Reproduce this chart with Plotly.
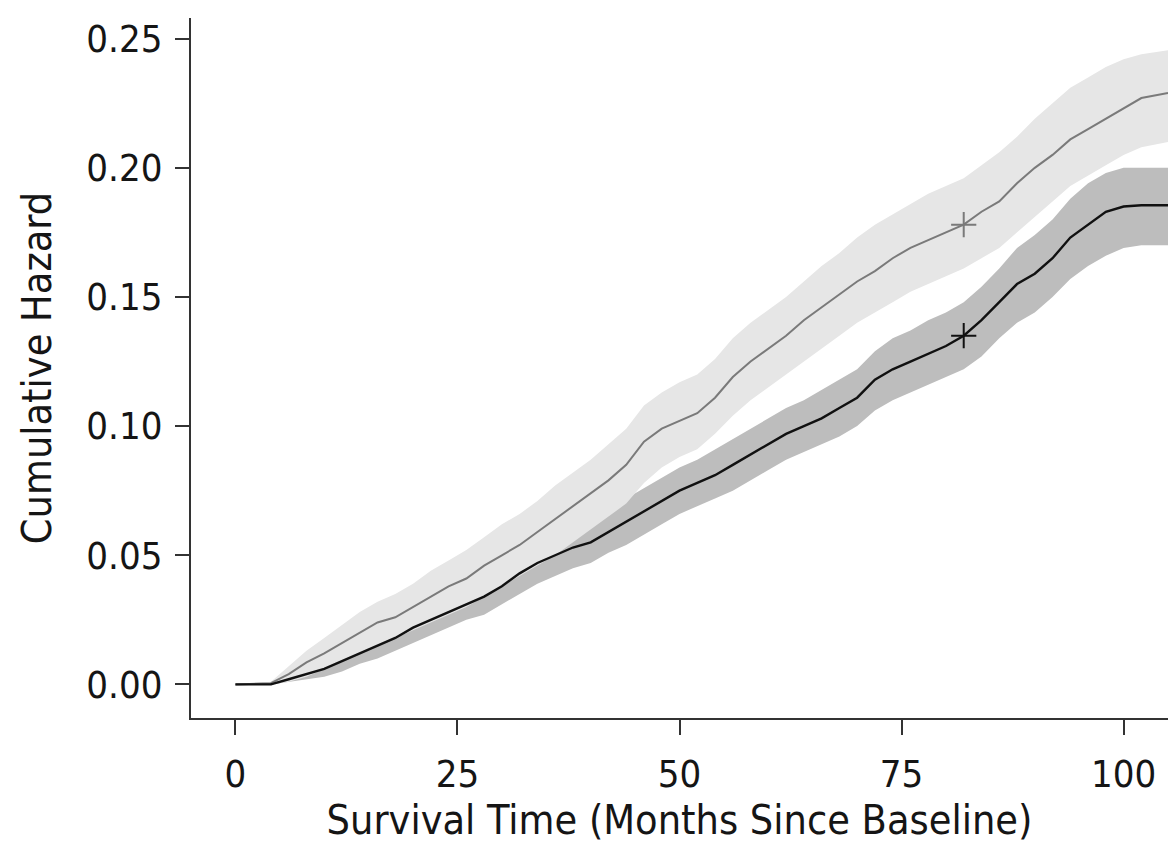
import plotly.graph_objects as go

# ---- data ----
months = [0, 4, 6, 8, 10, 12, 14, 16, 18, 20, 22, 24, 26, 28, 30, 32, 34, 36, 38, 40,
          42, 44, 46, 48, 50, 52, 54, 56, 58, 60, 62, 64, 66, 68, 70, 72, 74, 76, 78, 80,
          82, 84, 86, 88, 90, 92, 94, 96, 98, 100, 102, 105]

# group A (grey line, light band)
hazard_a = [0, 0.0005, 0.004, 0.0085, 0.012, 0.016, 0.020, 0.024, 0.026, 0.030, 0.034, 0.038,
            0.041, 0.046, 0.050, 0.054, 0.059, 0.064, 0.069, 0.074, 0.079, 0.085, 0.094, 0.099,
            0.102, 0.105, 0.111, 0.119, 0.125, 0.130, 0.135, 0.141, 0.146, 0.151, 0.156, 0.160,
            0.165, 0.169, 0.172, 0.175, 0.178, 0.183, 0.187, 0.194, 0.200, 0.205, 0.211, 0.215,
            0.219, 0.223, 0.227, 0.229]
lower_a = [0, 0, 0.001, 0.003, 0.006, 0.009, 0.012, 0.015, 0.018, 0.021, 0.024, 0.027, 0.030,
           0.034, 0.038, 0.042, 0.046, 0.050, 0.055, 0.060, 0.065, 0.070, 0.078, 0.084, 0.088,
           0.091, 0.097, 0.104, 0.110, 0.115, 0.120, 0.125, 0.130, 0.135, 0.140, 0.144, 0.148,
           0.152, 0.155, 0.158, 0.161, 0.165, 0.169, 0.175, 0.181, 0.187, 0.193, 0.197, 0.201,
           0.205, 0.208, 0.210]
upper_a = [0, 0.001, 0.007, 0.013, 0.018, 0.023, 0.028, 0.032, 0.035, 0.039, 0.044, 0.048,
           0.052, 0.057, 0.062, 0.066, 0.071, 0.077, 0.082, 0.087, 0.093, 0.099, 0.108, 0.113,
           0.117, 0.120, 0.126, 0.134, 0.140, 0.145, 0.150, 0.156, 0.162, 0.167, 0.173, 0.178,
           0.182, 0.186, 0.190, 0.193, 0.196, 0.201, 0.206, 0.212, 0.219, 0.225, 0.231, 0.235,
           0.239, 0.242, 0.244, 0.2455]

# group B (black line, darker band)
hazard_b = [0, 0, 0.002, 0.004, 0.006, 0.009, 0.012, 0.015, 0.018, 0.022, 0.025, 0.028, 0.031,
            0.034, 0.038, 0.043, 0.047, 0.050, 0.053, 0.055, 0.059, 0.063, 0.067, 0.071, 0.075,
            0.078, 0.081, 0.085, 0.089, 0.093, 0.097, 0.100, 0.103, 0.107, 0.111, 0.118, 0.122,
            0.125, 0.128, 0.131, 0.135, 0.141, 0.148, 0.155, 0.159, 0.165, 0.173, 0.178, 0.183,
            0.185, 0.1855, 0.1855]
lower_b = [0, 0, 0.001, 0.002, 0.003, 0.005, 0.008, 0.010, 0.013, 0.016, 0.019, 0.022, 0.025,
           0.027, 0.031, 0.035, 0.039, 0.042, 0.045, 0.047, 0.051, 0.054, 0.058, 0.062, 0.066,
           0.069, 0.072, 0.075, 0.079, 0.083, 0.087, 0.090, 0.093, 0.096, 0.100, 0.106, 0.110,
           0.113, 0.116, 0.119, 0.122, 0.127, 0.134, 0.140, 0.144, 0.150, 0.157, 0.162, 0.166,
           0.169, 0.170, 0.170]
upper_b = [0, 0.0005, 0.003, 0.006, 0.009, 0.013, 0.016, 0.020, 0.023, 0.028, 0.031, 0.034,
           0.038, 0.041, 0.045, 0.050, 0.055, 0.058, 0.061, 0.063, 0.067, 0.072, 0.076, 0.080,
           0.084, 0.087, 0.091, 0.095, 0.099, 0.103, 0.107, 0.110, 0.114, 0.118, 0.122, 0.129,
           0.134, 0.137, 0.141, 0.144, 0.148, 0.154, 0.161, 0.169, 0.174, 0.180, 0.188, 0.194,
           0.198, 0.200, 0.200, 0.200]

censor_x = [82]
censor_a = [0.178]
censor_b = [0.135]

x_ticks = [0, 25, 50, 75, 100]
y_ticks = [0.00, 0.05, 0.10, 0.15, 0.20, 0.25]
y_labels = ["0.00", "0.05", "0.10", "0.15", "0.20", "0.25"]

FONT = "DejaVu Sans Condensed, Liberation Sans Narrow, sans-serif"
AXIS_COLOR = "#333333"
TEXT_COLOR = "#151515"

fig = go.Figure()

# darker band (group B)
fig.add_trace(go.Scatter(x=months + months[::-1], y=upper_b + lower_b[::-1],
                         fill="toself", fillcolor="#bdbdbd", line=dict(width=0),
                         mode="lines", hoverinfo="skip", showlegend=False))
# light band (group A)
fig.add_trace(go.Scatter(x=months + months[::-1], y=upper_a + lower_a[::-1],
                         fill="toself", fillcolor="#e6e6e6", line=dict(width=0),
                         mode="lines", hoverinfo="skip", showlegend=False))
# lines
fig.add_trace(go.Scatter(x=months, y=hazard_a, mode="lines",
                         line=dict(color="#7a7a7a", width=2), showlegend=False))
fig.add_trace(go.Scatter(x=months, y=hazard_b, mode="lines",
                         line=dict(color="#111111", width=2.4), showlegend=False))
# censoring marks
fig.add_trace(go.Scatter(x=censor_x, y=censor_a, mode="markers",
                         marker=dict(symbol="cross-thin", size=18,
                                     line=dict(color="#7a7a7a", width=2)), showlegend=False))
fig.add_trace(go.Scatter(x=censor_x, y=censor_b, mode="markers",
                         marker=dict(symbol="cross-thin", size=18,
                                     line=dict(color="#111111", width=2)), showlegend=False))

fig.update_layout(
    width=1173, height=858,
    margin=dict(l=191, r=5, t=18, b=140),
    paper_bgcolor="white", plot_bgcolor="white",
    font=dict(family=FONT, color=TEXT_COLOR),
    xaxis=dict(range=[-5, 105], tickvals=x_ticks, showgrid=False, zeroline=False,
               showline=True, linecolor=AXIS_COLOR, linewidth=2,
               ticks="outside", ticklen=15, tickwidth=2, tickcolor=AXIS_COLOR,
               tickfont=dict(size=38, family=FONT, color=TEXT_COLOR),
               ticklabelstandoff=6,
               title=dict(text="Survival Time (Months Since Baseline)",
                          font=dict(size=41, family=FONT, color=TEXT_COLOR), standoff=6)),
    yaxis=dict(range=[-0.013, 0.258], tickvals=y_ticks, ticktext=y_labels,
               showgrid=False, zeroline=False,
               showline=True, linecolor=AXIS_COLOR, linewidth=2,
               ticks="outside", ticklen=14, tickwidth=2, tickcolor=AXIS_COLOR,
               tickfont=dict(size=38, family=FONT, color=TEXT_COLOR),
               ticklabelstandoff=5,
               title=dict(text="Cumulative Hazard",
                          font=dict(size=41, family=FONT, color=TEXT_COLOR), standoff=22)),
)

fig.write_html("out.html")
